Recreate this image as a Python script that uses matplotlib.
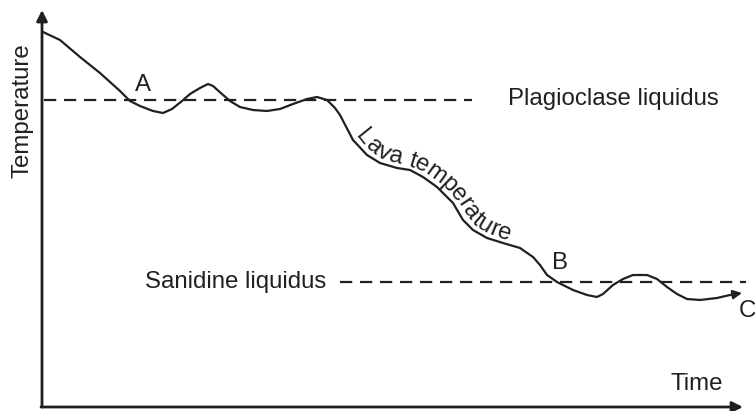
import numpy as np
import matplotlib
matplotlib.use("Agg")
import matplotlib.pyplot as plt

# renk ve yazı tipi
INK = '#231f20'
plt.rcParams['font.family'] = ['Liberation Sans', 'DejaVu Sans']

# eğri noktaları (piksel koordinatı, y aşağı doğru)
curve_x = [43, 60, 80, 100, 120, 130, 140, 153, 163, 172, 182, 190, 200,
           208, 213, 222, 230, 240, 253, 267, 280, 293, 307, 317, 327, 335,
           340, 353, 367, 380, 397, 410, 423, 437, 453, 463, 473, 487, 503,
           520, 533, 540, 547, 557, 573, 587, 597, 603, 613, 623, 633, 647,
           657, 667, 677, 687, 700, 717, 730, 742]
curve_y = [32, 40, 57, 73, 91, 101, 106, 111, 113, 109, 101, 94, 88,
           84, 86, 94, 101, 107, 110, 111, 109, 104, 99, 97, 100, 108,
           115, 140, 155, 163, 168, 170, 177, 187, 203, 220, 230, 238, 243,
           248, 257, 265, 275, 282, 290, 295, 297, 294, 285, 279, 275, 275,
           279, 287, 294, 299, 300, 298, 295, 293]

# sıvılaşma çizgileri
plag_y, plag_x0, plag_x1 = 100, 44, 472
sani_y, sani_x0, sani_x1 = 282, 340, 746

fig = plt.figure(figsize=(7.56, 4.11), dpi=100)
ax = fig.add_axes([0, 0, 1, 1])
ax.set_xlim(0, 756)
ax.set_ylim(411, 0)
ax.axis('off')

# eksenler (oklu)
ax.annotate('', xy=(42, 10), xytext=(42, 407),
            arrowprops=dict(arrowstyle='-|>', lw=2.0, color=INK,
                            mutation_scale=16, shrinkA=0, shrinkB=0))
ax.annotate('', xy=(743, 407), xytext=(41, 407),
            arrowprops=dict(arrowstyle='-|>', lw=2.0, color=INK,
                            mutation_scale=16, shrinkA=0, shrinkB=0))

# kesikli çizgiler
ax.plot([plag_x0, plag_x1], [plag_y, plag_y], color=INK, lw=1.6,
        dashes=(5.5, 3.5))
ax.plot([sani_x0, sani_x1], [sani_y, sani_y], color=INK, lw=1.6,
        dashes=(5.5, 3.5))

# lav sıcaklığı eğrisi
ax.plot(curve_x[:-1], curve_y[:-1], color=INK, lw=1.6,
        solid_capstyle='round', solid_joinstyle='round')
ax.annotate('', xy=(curve_x[-1], curve_y[-1]),
            xytext=(curve_x[-2], curve_y[-2]),
            arrowprops=dict(arrowstyle='-|>', lw=1.6, color=INK,
                            mutation_scale=13, shrinkA=0, shrinkB=0))

FS = 17.3
ax.text(508, 99, 'Plagioclase liquidus', fontsize=FS, color=INK,
        ha='left', va='center')
ax.text(326, 282, 'Sanidine liquidus', fontsize=FS, color=INK,
        ha='right', va='center')
ax.text(22, 111, 'Temperature', fontsize=FS, color=INK, rotation=90,
        ha='center', va='center')
ax.text(697, 384, 'Time', fontsize=FS, color=INK, ha='center', va='center')
ax.text(143, 85, 'A', fontsize=FS, color=INK, ha='center', va='center')
ax.text(560, 263, 'B', fontsize=FS, color=INK, ha='center', va='center')
ax.text(747, 311, 'C', fontsize=FS, color=INK, ha='center', va='center')

# eğri boyunca yazı: yerleşim için düzgünleştirilmiş kılavuz yol
label = 'Lava temperature'
px = np.array(curve_x, dtype=float)
py = np.array(curve_y, dtype=float)
seg = np.hypot(np.diff(px), np.diff(py))
arc = np.concatenate([[0], np.cumsum(seg)])
ss = np.arange(0, arc[-1], 1.0)
gx = np.interp(ss, arc, px)
gy = np.interp(ss, arc, py)
k = np.ones(21) / 21
gx = np.convolve(np.pad(gx, 10, mode='edge'), k, mode='valid')
gy = np.convolve(np.pad(gy, 10, mode='edge'), k, mode='valid')
tgx = np.gradient(gx)
tgy = np.gradient(gy)
tn = np.hypot(tgx, tgy)
tgx, tgy = tgx / tn, tgy / tn
nx, ny = tgy, -tgx          # yukarı yönlü normal (piksel y aşağı)
ang = np.degrees(np.arctan2(-tgy, tgx))

base_off = 4.0              # taban çizgisi kayması
mid_off = 9.0               # harf ortası yüksekliği
ox = gx + nx * mid_off
oy = gy + ny * mid_off
oarc = np.concatenate([[0], np.cumsum(np.hypot(np.diff(ox), np.diff(oy)))])
idx = np.arange(len(gx), dtype=float)

# başlangıç: x≈352 civarı
i0 = np.argmin(np.abs(gx - 352) + (gx < 340) * 1e3)
s = oarc[i0]

fig.canvas.draw()
renderer = fig.canvas.get_renderer()
for ch in label:
    t = ax.text(0, 0, ch, fontsize=FS, color=INK)
    w = t.get_window_extent(renderer=renderer).width if ch != ' ' else FS * 100 / 72 * 0.278
    t.remove()
    sc = s + w / 2
    fi = np.interp(sc, oarc, idx)
    bx = np.interp(fi, idx, gx + nx * base_off)
    by = np.interp(fi, idx, gy + ny * base_off)
    a = np.interp(fi, idx, ang)
    ax.text(bx, by, ch, fontsize=FS, color=INK,
            rotation=a, rotation_mode='anchor', ha='center', va='baseline')
    s += w

fig.savefig('out.png', dpi=100)
